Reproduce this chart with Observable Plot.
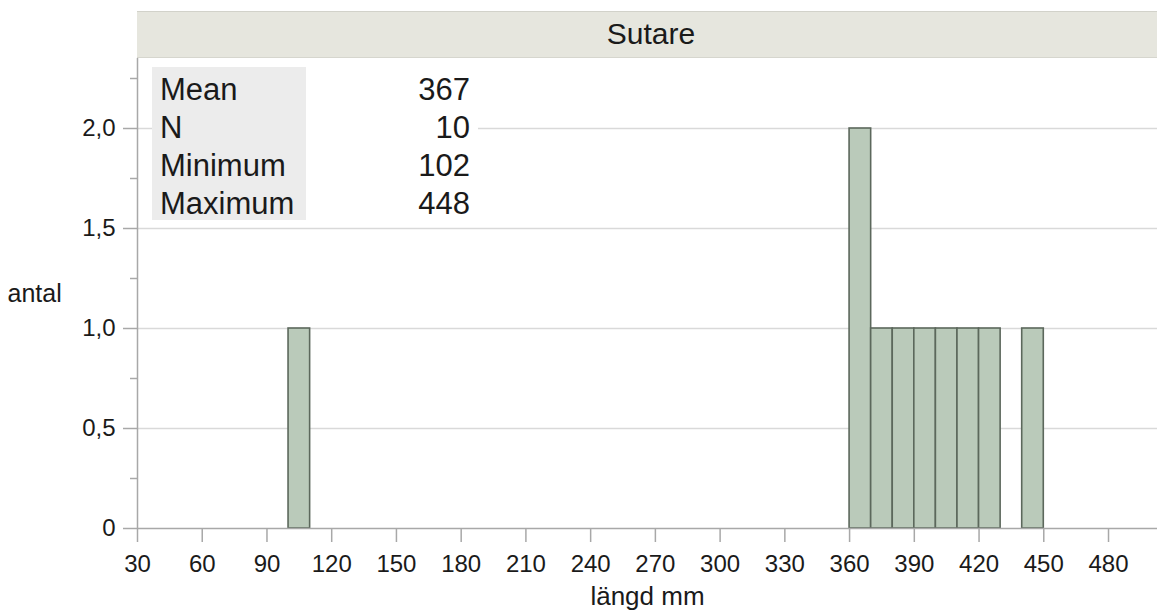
<!DOCTYPE html>
<html>
<head>
<meta charset="utf-8">
<script src="https://cdn.jsdelivr.net/npm/d3@7"></script>
<script src="https://cdn.jsdelivr.net/npm/@observablehq/plot@0.6"></script>
<style>
  html, body { margin: 0; padding: 0; background: #fff; }
  #wrap { position: relative; width: 1157px; height: 612px; overflow: hidden;
          font-family: "Liberation Sans", Arial, Helvetica, sans-serif; color: #1a1a1a; }
  #header { position: absolute; left: 137px; top: 11px; width: 1020px; height: 47px; box-sizing: border-box;
            background: #e6e6de; border-top: 1.5px solid #d2d2ca; border-bottom: 1.5px solid #d6d6ce;
            text-align: center; font-size: 30px; line-height: 44px; padding-left: 8px; }
  #stats { position: absolute; left: 152px; top: 67px; display: flex; font-size: 31px; line-height: 38.1px; }
  #stats .lab { background: #ececec; width: 154px; height: 153px; box-sizing: border-box; padding: 4px 0 0 8px; }
  #stats .val { background: #fff; width: 172px; height: 153px; box-sizing: border-box; padding: 4px 8px 0 0; text-align: right; }
  svg { position: absolute; left: 0; top: 0; }
</style>
</head>
<body>
<div id="wrap"></div>
<script>
// ---- data ----
const panelTitle = "Sutare";
const binStart = [100, 360, 370, 380, 390, 400, 410, 420, 440];
const binEnd   = [110, 370, 380, 390, 400, 410, 420, 430, 450];
const counts   = [1, 2, 1, 1, 1, 1, 1, 1, 1];
const xTicks = [30, 60, 90, 120, 150, 180, 210, 240, 270, 300, 330, 360, 390, 420, 450, 480];
const yTicks = [0, 0.5, 1.0, 1.5, 2.0];
const yMinorTicks = [0.25, 0.75, 1.25, 1.75, 2.25];
const yTickLabels = ["0", "0,5", "1,0", "1,5", "2,0"];
const statLabels = ["Mean", "N", "Minimum", "Maximum"];
const statValues = ["367", "10", "102", "448"];
const xLabel = "längd mm";
const yLabel = "antal";

const bins = binStart.map((s, i) => ({x1: s, x2: binEnd[i], count: counts[i]}));
const xDomain = [30, 502.7];

const wrap = document.getElementById("wrap");

const chart = Plot.plot({
  width: 1157,
  height: 612,
  marginLeft: 137,
  marginRight: 0,
  marginTop: 58,
  marginBottom: 84,
  style: {fontFamily: '"Liberation Sans", Arial, Helvetica, sans-serif', fontSize: "24px", color: "#1a1a1a", background: "transparent"},
  x: {domain: xDomain},
  y: {domain: [0, 2.35]},
  marks: [
    Plot.gridY(yTicks.filter(d => d > 0), {stroke: "#d9d9d9", strokeOpacity: 1, strokeWidth: 1.5}),
    Plot.rectY(bins, {x1: "x1", x2: "x2", y: "count", fill: "#bacaba", stroke: "#5c685c", strokeWidth: 1.6}),
    Plot.ruleY([0], {stroke: "#a8a8a8", strokeWidth: 1.5}),
    Plot.ruleX([xDomain[0]], {stroke: "#a8a8a8", strokeWidth: 1.5}),
    Plot.axisX(xTicks, {tickSize: 14, tickPadding: 12, stroke: "#a8a8a8", strokeWidth: 1.5, label: null, fontSize: 24}),
    Plot.axisY(yTicks, {tickSize: 14, tickPadding: 8, stroke: "#a8a8a8", strokeWidth: 1.5, label: null, fontSize: 24,
      tickFormat: d => yTickLabels[yTicks.indexOf(d)]}),
    Plot.axisY(yMinorTicks, {tickSize: 7, stroke: "#a8a8a8", strokeWidth: 1.5, label: null, tickFormat: () => ""}),
    Plot.text([xLabel], {frameAnchor: "bottom", dy: 76, fontSize: 26, fill: "#1a1a1a"}),
    Plot.text([yLabel], {frameAnchor: "left", textAnchor: "start", dx: -130, fontSize: 25, fill: "#1a1a1a"})
  ]
});
wrap.appendChild(chart);

const header = document.createElement("div");
header.id = "header";
header.textContent = panelTitle;
wrap.appendChild(header);

const stats = document.createElement("div");
stats.id = "stats";
const lab = document.createElement("div");
lab.className = "lab";
lab.innerHTML = statLabels.map(s => `<div>${s}</div>`).join("");
const val = document.createElement("div");
val.className = "val";
val.innerHTML = statValues.map(s => `<div>${s}</div>`).join("");
stats.appendChild(lab);
stats.appendChild(val);
wrap.appendChild(stats);
</script>
</body>
</html>
